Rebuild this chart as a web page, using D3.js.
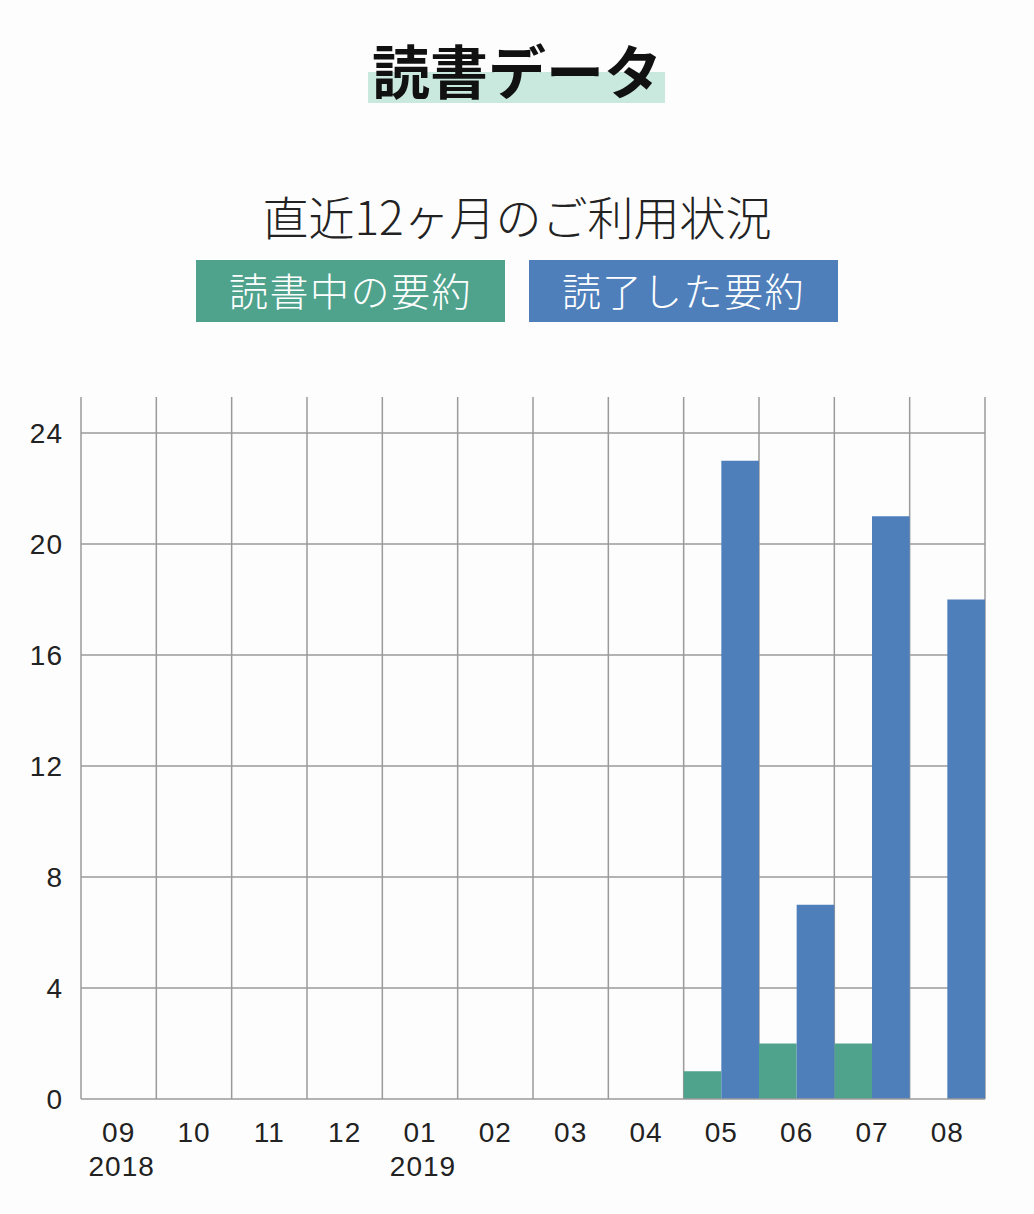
<!DOCTYPE html>
<html>
  <head>
    <meta charset="utf-8">
    <title>読書データ</title>
    <script src="https://d3js.org/d3.v7.min.js"></script>
    <style>
      body { margin: 0; background: #fdfdfd; font-family: "Noto Sans CJK JP", "Noto Sans", sans-serif; }
    </style>
  </head>
  <body>
    <div id="chart"></div>
    <script>
      // Data values
      var months = ["09", "10", "11", "12", "01", "02", "03", "04", "05", "06", "07", "08"];
      var years = ["2018", "", "", "", "2019", "", "", "", "", "", "", ""];
      var reading = [0, 0, 0, 0, 0, 0, 0, 0, 1, 2, 2, 0];
      var finished = [0, 0, 0, 0, 0, 0, 0, 0, 23, 7, 21, 18];
      var yTicks = [0, 4, 8, 12, 16, 20, 24];
      var seriesNames = ["読書中の要約", "読了した要約"];
      var colors = ["#4fa38d", "#4e7fbb"];

      var width = 1034, height = 1214;
      var plotLeft = 81, plotRight = 985, plotTop = 397, plotBottom = 1099;
      var numFont = "'Liberation Sans', Arial, sans-serif";

      var svg = d3.select("#chart").append("svg")
        .attr("width", width)
        .attr("height", height);

      // Title with highlight
      svg.append("rect")
        .attr("x", 368).attr("y", 72)
        .attr("width", 297).attr("height", 31)
        .attr("fill", "#c9e9df");
      svg.append("text")
        .attr("x", 517).attr("y", 94)
        .attr("text-anchor", "middle")
        .attr("font-size", 58)
        .attr("font-weight", "bold")
        .attr("fill", "#111")
        .text("読書データ");

      svg.append("text")
        .attr("x", 517).attr("y", 235)
        .attr("text-anchor", "middle")
        .attr("font-size", 46)
        .attr("font-weight", 300)
        .attr("fill", "#222")
        .text("直近12ヶ月のご利用状況");

      // Legend boxes
      var legend = svg.selectAll(".legend")
        .data(seriesNames)
        .enter().append("g")
          .attr("transform", function(d, i) { return "translate(" + (196 + i * 333) + ",260)"; });
      legend.append("rect")
        .attr("width", 309).attr("height", 62)
        .attr("fill", function(d, i) { return colors[i]; });
      legend.append("text")
        .attr("x", 154.5).attr("y", 46)
        .attr("text-anchor", "middle")
        .attr("font-size", 39)
        .attr("font-weight", 300)
        .attr("letter-spacing", 1.5)
        .attr("fill", "#fff")
        .text(function(d) { return d; });

      // Scales
      var x = d3.scaleBand().domain(months).range([plotLeft, plotRight]);
      var y = d3.scaleLinear().domain([0, 24]).range([plotBottom, plotBottom - 24 * 27.75]);

      // Grid
      var grid = svg.append("g").attr("stroke", "#9a9a9a").attr("stroke-width", 1.5);
      grid.selectAll(".h")
        .data(yTicks.slice(1))
        .enter().append("line")
          .attr("x1", plotLeft).attr("x2", plotRight)
          .attr("y1", function(d) { return y(d); })
          .attr("y2", function(d) { return y(d); });
      grid.selectAll(".v")
        .data(months)
        .enter().append("line")
          .attr("x1", function(d) { return x(d) + x.bandwidth(); })
          .attr("x2", function(d) { return x(d) + x.bandwidth(); })
          .attr("y1", plotTop).attr("y2", plotBottom);
      grid.append("line")
        .attr("x1", plotLeft).attr("x2", plotLeft)
        .attr("y1", plotTop).attr("y2", plotBottom);

      // Bars
      var half = x.bandwidth() / 2;
      [reading, finished].forEach(function(vals, s) {
        svg.selectAll(".bar" + s)
          .data(vals)
          .enter().append("rect")
            .attr("x", function(d, i) { return x(months[i]) + s * half; })
            .attr("y", function(d) { return y(d); })
            .attr("width", half)
            .attr("height", function(d) { return plotBottom - y(d); })
            .attr("fill", colors[s]);
      });

      // Baseline
      svg.append("line")
        .attr("x1", plotLeft).attr("x2", plotRight)
        .attr("y1", plotBottom).attr("y2", plotBottom)
        .attr("stroke", "#9a9a9a").attr("stroke-width", 1.5);

      // Y axis labels
      svg.selectAll(".ylab")
        .data(yTicks)
        .enter().append("text")
          .attr("x", 63)
          .attr("y", function(d) { return y(d) + 10; })
          .attr("text-anchor", "end")
          .attr("font-family", numFont)
          .attr("font-size", 28)
          .attr("letter-spacing", 1)
          .attr("fill", "#222")
          .text(function(d) { return d; });

      // X axis labels
      svg.selectAll(".xlab")
        .data(months)
        .enter().append("text")
          .attr("x", function(d) { return x(d) + half; })
          .attr("y", 1142)
          .attr("text-anchor", "middle")
          .attr("font-family", numFont)
          .attr("font-size", 28)
          .attr("letter-spacing", 1)
          .attr("fill", "#222")
          .text(function(d) { return d; });
      svg.selectAll(".yr")
        .data(years)
        .enter().append("text")
          .attr("x", function(d, i) { return x(months[i]) + half + 3; })
          .attr("y", 1176)
          .attr("text-anchor", "middle")
          .attr("font-family", numFont)
          .attr("font-size", 28)
          .attr("letter-spacing", 1)
          .attr("fill", "#222")
          .text(function(d) { return d; });
    </script>
  </body>
</html>
